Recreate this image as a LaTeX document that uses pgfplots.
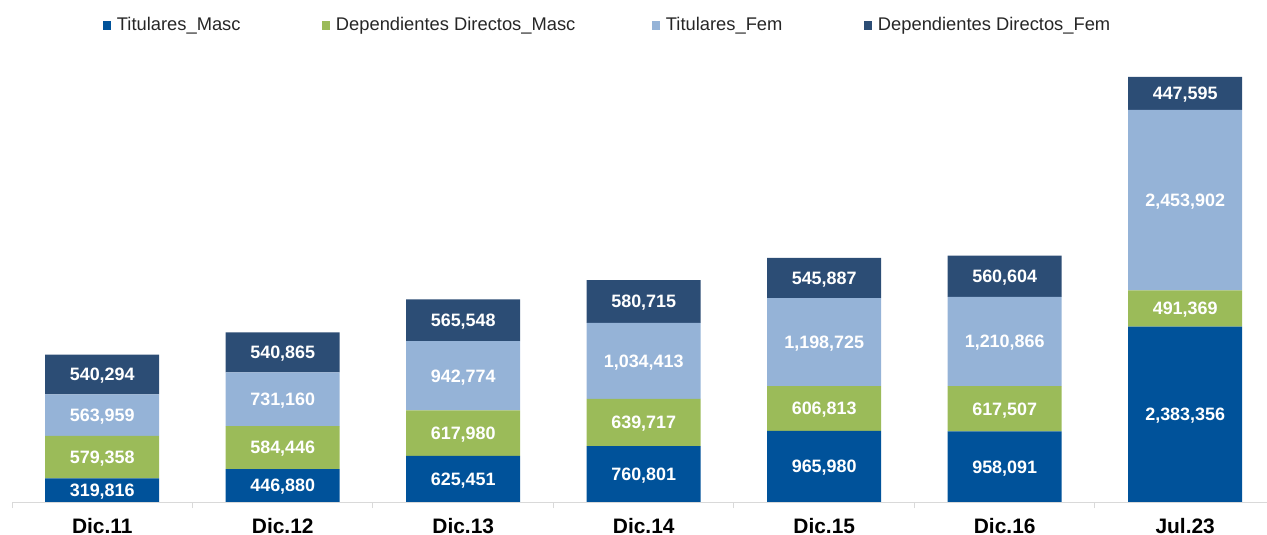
\documentclass[border=0pt]{standalone}
\usepackage{pgfplots}
\usepackage{pgfplotstable}
\pgfplotsset{compat=1.18}
\usepackage{fontspec}
\setmainfont{Liberation Sans}
\definecolor{ctm}{RGB}{0,82,154}
\definecolor{cdm}{RGB}{155,187,89}
\definecolor{ctf}{RGB}{149,179,215}
\definecolor{cdf}{RGB}{44,77,117}
\definecolor{axgray}{RGB}{217,217,217}
\definecolor{legtext}{RGB}{38,38,38}
\pgfplotstableread{
x tm dm tf df ltm ldm ltf ldf
0 319.816 579.358 563.959 540.294 319,816 579,358 563,959 540,294
1 446.880 584.446 731.160 540.865 446,880 584,446 731,160 540,865
2 625.451 617.980 942.774 565.548 625,451 617,980 942,774 565,548
3 760.801 639.717 1034.413 580.715 760,801 639,717 1,034,413 580,715
4 965.980 606.813 1198.725 545.887 965,980 606,813 1,198,725 545,887
5 958.091 617.507 1210.866 560.604 958,091 617,507 1,210,866 560,604
6 2383.356 491.369 2453.902 447.595 2,383,356 491,369 2,453,902 447,595
}\data
\pgfplotsset{
  myleg/.style={legend image code/.code={\fill[##1] (0bp,-4.5bp) rectangle (8.5bp,4.5bp); \path (14bp,0bp);}}
}
\begin{document}
\begin{tikzpicture}
\begin{axis}[
  at={(12bp,33bp)}, anchor=south west,
  scale only axis, width=1255bp, height=441.6bp,
  ybar stacked, bar width=114bp,
  xmin=-0.5, xmax=6.453, ymin=0, ymax=6000,
  axis y line=none, axis x line*=bottom,
  axis line style={draw=axgray, line width=1bp},
  ytick=\empty,
  xtick={0,...,6},
  xticklabels={Dic.11,Dic.12,Dic.13,Dic.14,Dic.15,Dic.16,Jul.23},
  minor xtick={-0.5,0.5,1.5,2.5,3.5,4.5,5.5},
  major tick length=0pt, minor tick length=6bp, xtick align=outside,
  minor tick style={draw=axgray, line width=1bp},
  major tick style={draw=none},
  xticklabel style={font=\bfseries\fontsize{21}{21}\selectfont, anchor=base, yshift=-31bp, text=black},
  nodes near coords, point meta=explicit symbolic,
  every node near coord/.append style={font=\bfseries\fontsize{18}{18}\selectfont, text=white, anchor=center, yshift=-1.5bp},
  legend columns=4,
  legend style={at={(axis description cs:0.0725,1.080)}, anchor=west, draw=none, fill=none,
    inner sep=0pt, outer sep=0pt, font=\fontsize{18.4}{18.4}\selectfont, text=legtext,
    nodes={inner sep=0pt, outer sep=0pt},
    /tikz/every even column/.style={column sep=0pt},
    /tikz/every odd column/.style={column sep=0pt}},
]
\addplot[fill=ctm, draw=none, myleg] table[x=x, y=tm, meta=ltm] {\data};
\addlegendentry{\makebox[205bp][l]{Titulares\_Masc}}
\addplot[fill=cdm, draw=none, myleg] table[x=x, y=dm, meta=ldm] {\data};
\addlegendentry{\makebox[316bp][l]{Dependientes Directos\_Masc}}
\addplot[fill=ctf, draw=none, myleg] table[x=x, y=tf, meta=ltf] {\data};
\addlegendentry{\makebox[198bp][l]{Titulares\_Fem}}
\addplot[fill=cdf, draw=none, myleg] table[x=x, y=df, meta=ldf] {\data};
\addlegendentry{Dependientes Directos\_Fem}
\end{axis}
\pgfresetboundingbox
\useasboundingbox (0,0) rectangle (1267bp,535bp);
\end{tikzpicture}
\end{document}
